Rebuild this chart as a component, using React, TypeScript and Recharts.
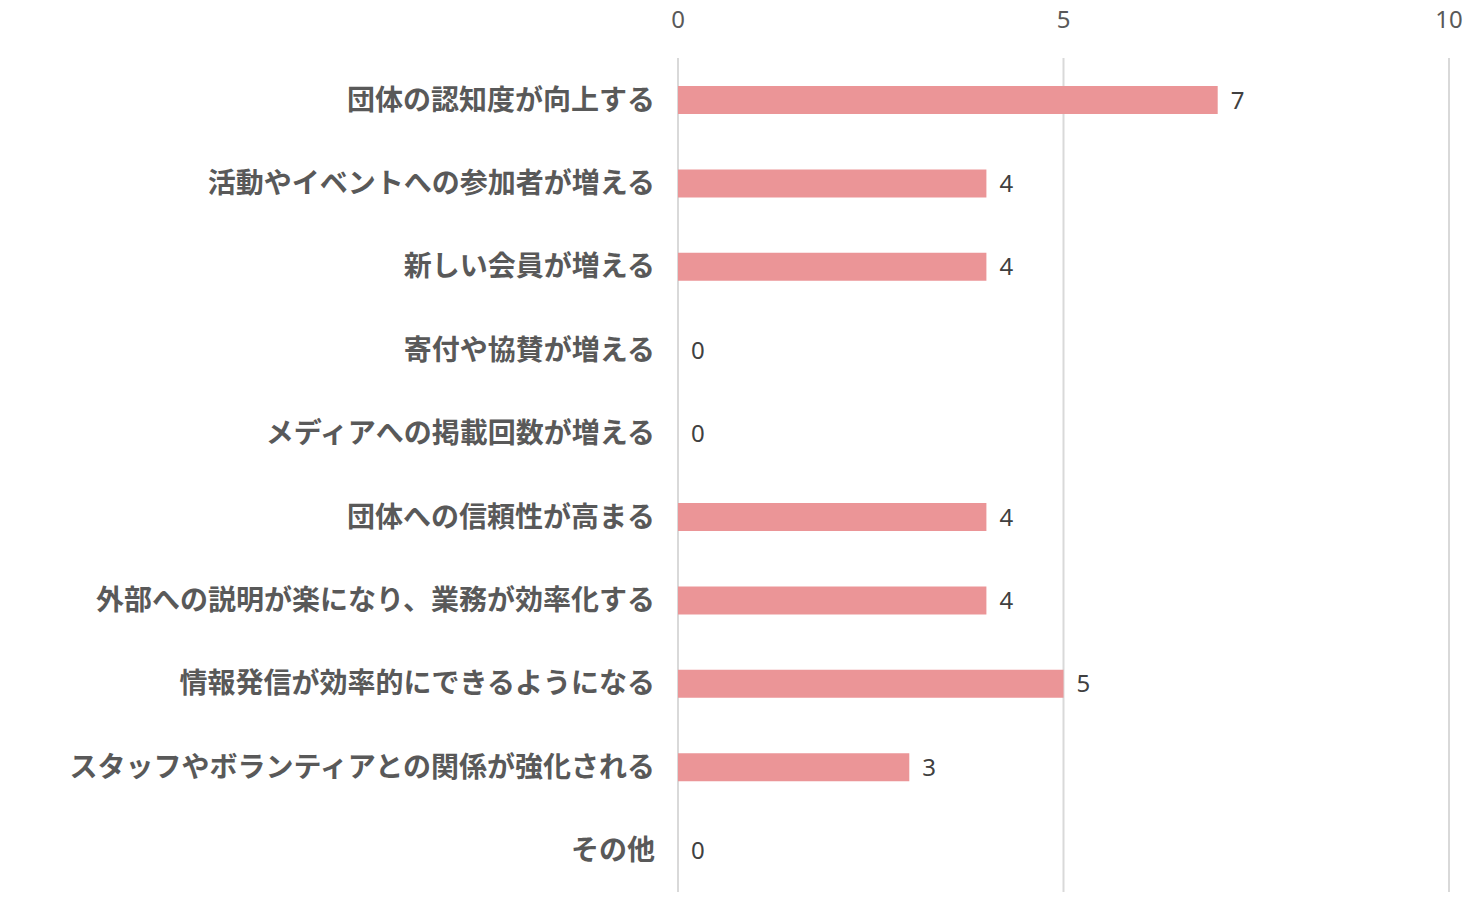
import { BarChart, Bar, XAxis, YAxis, CartesianGrid, LabelList } from "recharts";

const categories = [
  "団体の認知度が向上する",
  "活動やイベントへの参加者が増える",
  "新しい会員が増える",
  "寄付や協賛が増える",
  "メディアへの掲載回数が増える",
  "団体への信頼性が高まる",
  "外部への説明が楽になり、業務が効率化する",
  "情報発信が効率的にできるようになる",
  "スタッフやボランティアとの関係が強化される",
  "その他",
];
const counts = [7, 4, 4, 0, 0, 4, 4, 5, 3, 0];
const xTicks = [0, 5, 10];

const data = categories.map((name, i) => ({ name, count: counts[i] }));

export default function App() {
  return (
    <div style={{ position: "absolute", left: 0, top: 0, background: "#fff" }}>
      <BarChart
        width={1481}
        height={906}
        data={data}
        layout="vertical"
        margin={{ top: 0, right: 32, bottom: 14, left: 0 }}
      >
        <CartesianGrid horizontal={false} stroke="#D9D9D9" strokeWidth={2} />
        <XAxis
          type="number"
          orientation="top"
          domain={[0, 10]}
          ticks={xTicks}
          height={58}
          axisLine={false}
          tickLine={false}
          tickSize={0}
          tickMargin={30}
          tick={{ fill: "#595959", fontSize: 24, fontFamily: "Noto Sans" }}
        />
        <YAxis
          type="category"
          dataKey="name"
          width={678}
          interval={0}
          axisLine={false}
          tickLine={false}
          tickSize={0}
          tickMargin={23}
          tick={{
            fill: "#595959",
            fontSize: 28,
            fontWeight: "bold",
            fontFamily: "Noto Sans CJK JP",
          }}
        />
        <Bar
          dataKey="count"
          fill="#EB9597"
          barSize={28}
          minPointSize={0.01}
          isAnimationActive={false}
        >
          <LabelList
            dataKey="count"
            position="right"
            offset={13}
            fill="#404040"
            fontSize={24}
            fontFamily="Noto Sans"
          />
        </Bar>
      </BarChart>
    </div>
  );
}
